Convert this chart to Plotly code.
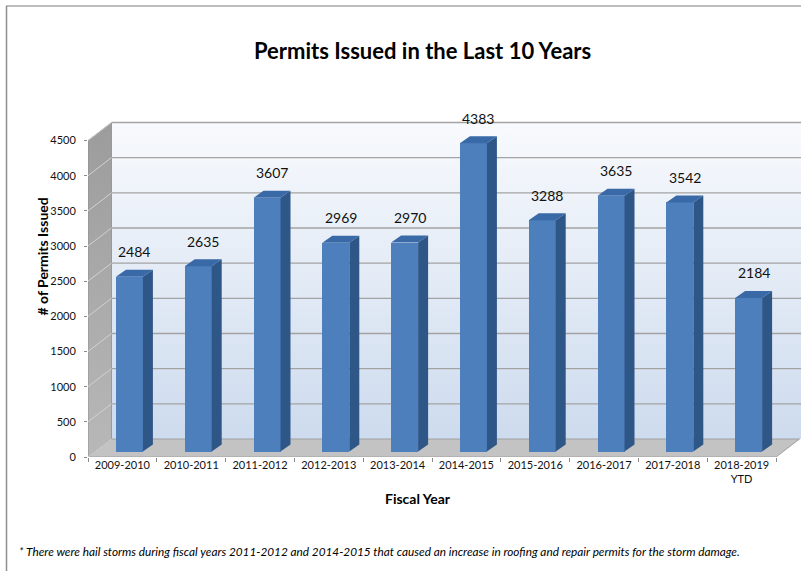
import plotly.graph_objects as go

# ---- data -------------------------------------------------------------
fiscal_years = ["2009-2010", "2010-2011", "2011-2012", "2012-2013", "2013-2014",
                "2014-2015", "2015-2016", "2016-2017", "2017-2018", "2018-2019<br>YTD"]
permits = [2484, 2635, 3607, 2969, 2970, 4383, 3288, 3635, 3542, 2184]
y_ticks = [0, 500, 1000, 1500, 2000, 2500, 3000, 3500, 4000, 4500]

title_text = "Permits Issued in the Last 10 Years"
y_title = "# of Permits Issued"
x_title = "Fiscal Year"
footnote = ("* There were hail storms during fiscal years 2011-2012 and 2014-2015 "
            "that caused an increase in roofing and repair permits for the storm damage.")

# ---- geometry (pixels) ------------------------------------------------
W, H = 801, 571
L, R, T, B = 88, 0, 120, 114          # margins of the front plane
plot_w = W - L - R
plot_h = H - T - B
CAT_PX = 68.8                          # width of one category
VAL_PX = 316.5 / 4500                  # pixels per permit

def ux(px):
    return px / CAT_PX

def uy(px):
    return px / VAL_PX

n = len(permits)
x_range = [-0.5, -0.5 + ux(plot_w)]
y_range = [0, uy(plot_h)]
y_top = y_ticks[-1]

# depth of the 3-D box and of the columns
wall_dx, wall_dy = ux(23.5), uy(18)
bar_dx, bar_dy = ux(7), uy(5.5)        # columns sit part-way back in the box
col_dx, col_dy = ux(10), uy(7)         # column depth
col_w = ux(27)

x_left, x_right = -0.5, n - 0.5

FONT = "Lato"
BAR_FRONT = "#4c7fbc"
BAR_SIDE = "#2e5687"
BAR_TOP = "#3a69a7"

fig = go.Figure()

# ---- walls and floor --------------------------------------------------
fig.add_trace(go.Scatter(
    x=[x_left + wall_dx, x_range[1], x_range[1], x_left + wall_dx, x_left + wall_dx],
    y=[wall_dy, wall_dy, y_top + wall_dy, y_top + wall_dy, wall_dy],
    mode="lines", fill="toself", line=dict(width=0),
    fillgradient=dict(type="vertical",
                      colorscale=[[0, "#cddbee"], [1, "#f8fafd"]]),
    hoverinfo="skip", showlegend=False))

fig.add_trace(go.Scatter(
    x=[x_left, x_left, x_left + wall_dx, x_left + wall_dx, x_left],
    y=[0, y_top, y_top + wall_dy, wall_dy, 0],
    mode="lines", fill="toself", line=dict(width=0.8, color="#8c8c8c"),
    fillgradient=dict(type="vertical",
                      colorscale=[[0, "#b8b8b8"], [1, "#9c9c9c"]]),
    hoverinfo="skip", showlegend=False))

fig.add_trace(go.Scatter(
    x=[x_left, x_right, x_right + wall_dx, x_left + wall_dx, x_left],
    y=[0, 0, wall_dy, wall_dy, 0],
    mode="lines", fill="toself", line=dict(width=1, color="#a0a0a0"),
    fillcolor="#c3c3c3",
    hoverinfo="skip", showlegend=False))

# ---- gridlines on the back and side walls -----------------------------
gx, gy, sx, sy = [], [], [], []
for t in y_ticks:
    if t > 0:
        gx += [x_left + wall_dx, x_range[1], None]
        gy += [t + wall_dy, t + wall_dy, None]
    sx += [x_left, x_left + wall_dx, None]
    sy += [t, t + wall_dy, None]
fig.add_trace(go.Scatter(x=gx, y=gy, mode="lines",
                         line=dict(color="#a3a3a3", width=1.3),
                         hoverinfo="skip", showlegend=False))
fig.add_trace(go.Scatter(x=sx, y=sy, mode="lines",
                         line=dict(color="#d2d2d2", width=1),
                         hoverinfo="skip", showlegend=False))

# ---- columns (overlay axes shifted into the box) ----------------------
xs = list(range(n))
fig.add_trace(go.Bar(x=xs, y=permits, width=col_w, marker=dict(color=BAR_FRONT, line=dict(width=0)),
                     xaxis="x2", yaxis="y2", showlegend=False,
                     hovertemplate="%{y}<extra></extra>"))

side_x, side_y, top_x, top_y = [], [], [], []
for i, v in zip(xs, permits):
    xl, xr = i - col_w / 2, i + col_w / 2
    side_x += [xr, xr + col_dx, xr + col_dx, xr, xr, None]
    side_y += [0, col_dy, v + col_dy, v, 0, None]
    top_x += [xl, xr, xr + col_dx, xl + col_dx, xl, None]
    top_y += [v, v, v + col_dy, v + col_dy, v, None]
fig.add_trace(go.Scatter(x=side_x, y=side_y, mode="lines", fill="toself",
                         fillcolor=BAR_SIDE, line=dict(width=0),
                         xaxis="x2", yaxis="y2", hoverinfo="skip", showlegend=False))
fig.add_trace(go.Scatter(x=top_x, y=top_y, mode="lines", fill="toself",
                         fillcolor=BAR_TOP, line=dict(width=0),
                         xaxis="x2", yaxis="y2", hoverinfo="skip", showlegend=False))

annotations = []
for i, v in zip(xs, permits):
    annotations.append(dict(x=i + ux(5), y=v, xref="x2", yref="y2", text=str(v),
                            showarrow=False, yshift=25, yanchor="middle",
                            font=dict(family=FONT, size=14, color="#111")))

# ---- text -------------------------------------------------------------
def px_x(p):
    return (p - L) / plot_w

def px_y(p):
    return (H - B - p) / plot_h

annotations += [
    dict(x=px_x(422), y=px_y(51), xref="paper", yref="paper", text="<b>%s</b>" % title_text,
         showarrow=False, xanchor="center", yanchor="middle",
         font=dict(family=FONT, size=22, color="#000")),
    dict(x=px_x(41.5), y=px_y(257), xref="paper", yref="paper", text="<b>%s</b>" % y_title,
         textangle=-90, showarrow=False, xanchor="center", yanchor="middle",
         font=dict(family=FONT, size=14, color="#000")),
    dict(x=px_x(418), y=px_y(498), xref="paper", yref="paper", text="<b>%s</b>" % x_title,
         showarrow=False, xanchor="center", yanchor="middle",
         font=dict(family=FONT, size=14, color="#000")),
    dict(x=px_x(17), y=px_y(551), xref="paper", yref="paper", text="<i>%s</i>" % footnote,
         showarrow=False, xanchor="left", yanchor="middle",
         font=dict(family=FONT, size=11.8, color="#000")),
]

shapes = [
    dict(type="line", xref="paper", yref="paper", x0=px_x(6), x1=px_x(W), y0=px_y(6), y1=px_y(6),
         line=dict(color="#a8a8a8", width=1.5)),
    dict(type="line", xref="paper", yref="paper", x0=px_x(6.5), x1=px_x(6.5), y0=px_y(6), y1=px_y(H),
         line=dict(color="#8f8f8f", width=1.5)),
]

fig.update_layout(
    width=W, height=H,
    margin=dict(l=L, r=R, t=T, b=B, pad=0),
    paper_bgcolor="white", plot_bgcolor="rgba(0,0,0,0)",
    showlegend=False, bargap=0,
    font=dict(family=FONT, color="#000"),
    xaxis=dict(range=x_range, tickmode="array", tickvals=xs, ticktext=fiscal_years,
               ticks="", showgrid=False, zeroline=False, showline=False,
               tickfont=dict(family=FONT, size=11, color="#111"),
               minor=dict(tickmode="array", tickvals=[i - 0.5 for i in range(n + 1)],
                          ticks="outside", ticklen=4, tickcolor="#8a8a8a", showgrid=False),
               fixedrange=True),
    yaxis=dict(range=y_range, tickmode="array", tickvals=y_ticks,
               ticks="outside", ticklen=3, tickcolor="#8a8a8a",
               showgrid=False, zeroline=False, showline=False,
               ticklabelstandoff=6,
               tickfont=dict(family=FONT, size=11, color="#111"), fixedrange=True),
    xaxis2=dict(range=[x_range[0] - bar_dx, x_range[1] - bar_dx], overlaying="x",
                anchor="y2", visible=False, fixedrange=True),
    yaxis2=dict(range=[y_range[0] - bar_dy, y_range[1] - bar_dy], overlaying="y",
                anchor="x2", visible=False, fixedrange=True),
    annotations=annotations, shapes=shapes,
)

fig.write_html("out.html")
